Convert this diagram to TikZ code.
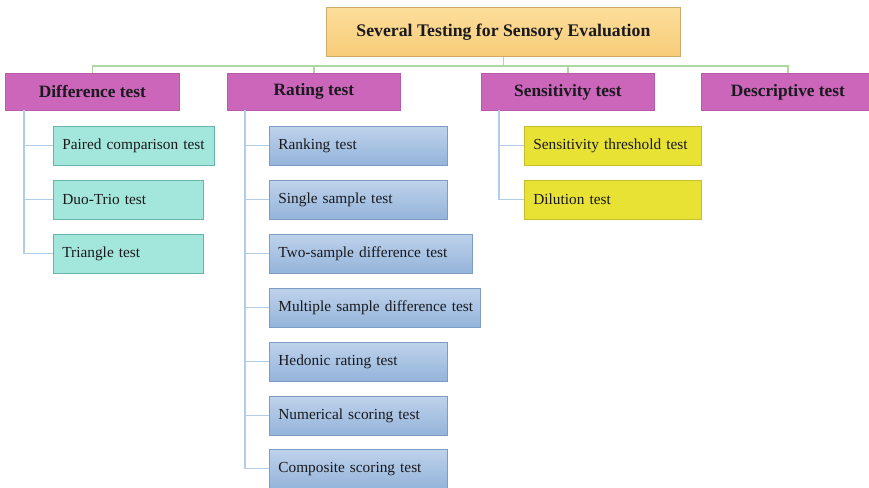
\documentclass[tikz,border=0pt]{standalone}
\usepackage{fontspec}
\setmainfont{Liberation Serif}
\definecolor{titletop}{RGB}{252,222,155}
\definecolor{titlebot}{RGB}{247,204,120}
\definecolor{titleline}{RGB}{205,170,110}
\definecolor{magfill}{RGB}{204,102,187}
\definecolor{magline}{RGB}{185,90,170}
\definecolor{tealfill}{RGB}{163,230,220}
\definecolor{tealline}{RGB}{105,180,170}
\definecolor{bluetop}{RGB}{190,210,235}
\definecolor{bluebot}{RGB}{148,180,218}
\definecolor{blueline}{RGB}{125,155,195}
\definecolor{yellowfill}{RGB}{232,226,52}
\definecolor{yellowline}{RGB}{200,190,45}
\definecolor{busgreen}{RGB}{175,215,160}
\definecolor{linkblue}{RGB}{178,205,232}
\definecolor{ink}{RGB}{25,25,30}
\tikzset{
  base/.style={rectangle, anchor=north west, line width=0.6pt, inner ysep=0pt, text=ink},
  leaf/.style={base, align=left, inner xsep=6.75pt, minimum height=28.9pt,
    font=\fontsize{11.5}{13}\selectfont},
  diffleaf/.style={leaf, fill=tealfill, draw=tealline},
  rateleaf/.style={leaf, top color=bluetop, bottom color=bluebot, draw=blueline},
  sensleaf/.style={leaf, fill=yellowfill, draw=yellowline},
  category/.style={base, fill=magfill, draw=magline, minimum width=129.75pt,
    minimum height=27.75pt, font=\bfseries\fontsize{13}{15}\selectfont},
  headbox/.style={base, top color=titletop, bottom color=titlebot, draw=titleline,
    minimum width=265.5pt, minimum height=36.75pt,
    font=\bfseries\fontsize{13.3}{15}\selectfont},
  bus/.style={draw=busgreen, line width=1pt},
  link/.style={draw=linkblue, line width=1.1pt},
}
\begin{document}
\begin{tikzpicture}[x=0.75pt,y=-0.75pt]
\useasboundingbox (0,0) rectangle (869,488);

% title
\node[headbox] (title) at (326,7) {Several Testing for Sensory Evaluation};

% four families of tests
\node[category, minimum width=130.5pt] (diff) at (5,73) {Difference test};
\node[category] (rate) at (227,73) {Rating test};
\node[category] (sens) at (481,73) {Sensitivity test};
\node[category] (desc) at (701,73) {Descriptive test};

% difference tests
\node[diffleaf, text width=107.25pt] (paired) at (53,126) {\mbox{Paired comparison test}};
\node[diffleaf, text width=99pt] (duo) at (53,180) {Duo-Trio test};
\node[diffleaf, text width=99pt] (tri) at (53,234) {Triangle test};

% rating tests
\node[rateleaf, text width=120pt] (rank) at (269,126) {Ranking test};
\node[rateleaf, text width=120pt] (single) at (269,180) {Single sample test};
\node[rateleaf, text width=138.75pt] (two) at (269,234) {\mbox{Two-sample difference test}};
\node[rateleaf, text width=144.75pt] (multi) at (269,288) {\mbox{Multiple sample difference test}};
\node[rateleaf, text width=120pt] (hed) at (269,342) {Hedonic rating test};
\node[rateleaf, text width=120pt] (num) at (269,396) {Numerical scoring test};
\node[rateleaf, text width=120pt] (comp) at (269,449) {Composite scoring test};

% sensitivity tests
\node[sensleaf, text width=119.25pt] (thr) at (524,126) {\mbox{Sensitivity threshold test}};
\node[sensleaf, text width=119.25pt] (dil) at (524,180) {Dilution test};

% green bus from the title to the families
\coordinate (busy) at (0,66);
\draw[bus] (title.south) -- (title.south |- busy);
\draw[bus] (diff.north) -- (diff.north |- busy) -| (desc.north);
\draw[bus] (rate.north) -- (rate.north |- busy);
\draw[bus] (sens.north) -- (sens.north |- busy);

% blue trunks to the individual tests
\coordinate (dT) at (24,110);
\draw[link] (dT) |- (tri.west);
\draw[link] (dT |- paired.west) -- (paired.west);
\draw[link] (dT |- duo.west) -- (duo.west);

\coordinate (rT) at (245,110);
\draw[link] (rT) |- (comp.west);
\foreach \n in {rank,single,two,multi,hed,num}
  \draw[link] (rT |- \n.west) -- (\n.west);

\coordinate (sT) at (499,110);
\draw[link] (sT) |- (dil.west);
\draw[link] (sT |- thr.west) -- (thr.west);
\end{tikzpicture}
\end{document}
